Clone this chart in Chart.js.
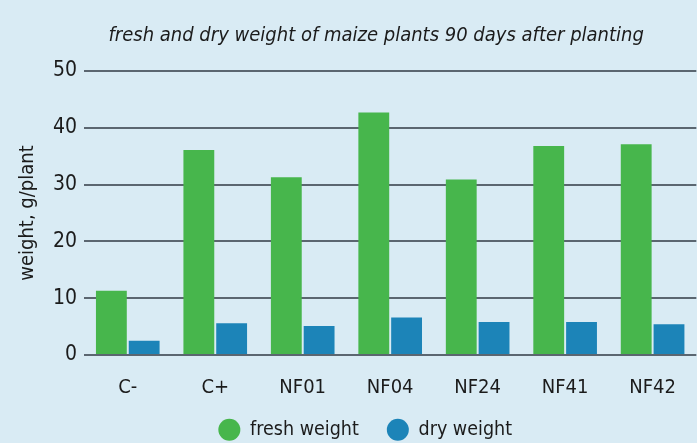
<!DOCTYPE html>
<html>
<head>
<meta charset="utf-8">
<script src="https://cdn.jsdelivr.net/npm/chart.js@4.4.0/dist/chart.umd.min.js"></script>
<style>
  html, body { margin: 0; padding: 0; background: #d9ebf4; }
  canvas { display: block; }
</style>
</head>
<body>
<canvas id="maizeChart" width="697" height="443"></canvas>
<script>
const categories = ['C-', 'C+', 'NF01', 'NF04', 'NF24', 'NF41', 'NF42'];
const freshWeight = [11.3, 36.1, 31.3, 42.7, 30.9, 36.8, 37.1];
const dryWeight = [2.5, 5.6, 5.1, 6.6, 5.8, 5.8, 5.4];
const yTicks = [0, 10, 20, 30, 40, 50];

const fontFamily = "'Liberation Sans Narrow', 'DejaVu Sans Condensed', sans-serif";
const textColor = '#1b1b1b';

// title and legend in the original are not centred on the plot, shift them a bit
const nudgeBoxes = {
    id: 'nudgeBoxes',
    afterLayout(chart) {
        const t = chart.titleBlock;
        if (t) { t.left -= 14; t.right -= 14; }
        const lg = chart.legend;
        if (lg) {
            lg.left -= 25; lg.right -= 25;
            lg.top -= 29;
            lg.bottom = chart.height; // legend clips to its box
        }
    }
};

const ctx = document.getElementById('maizeChart');
new Chart(ctx, {
    type: 'bar',
    data: {
        labels: categories,
        datasets: [
            {label: 'fresh weight', data: freshWeight, backgroundColor: '#47b64c'},
            {label: 'dry weight', data: dryWeight, backgroundColor: '#1c84b8'}
        ]
    },
    options: {
        responsive: false,
        animation: false,
        layout: {padding: {left: 12, right: 0, top: 0, bottom: 0}},
        datasets: {bar: {categoryPercentage: 0.75, barPercentage: 0.94}},
        scales: {
            x: {
                grid: {display: false, drawTicks: false},
                border: {display: false},
                ticks: {color: textColor, font: {family: fontFamily, size: 20}, padding: 21}
            },
            y: {
                min: 0,
                max: 50,
                afterBuildTicks: axis => { axis.ticks = yTicks.map(v => ({value: v})); },
                grid: {color: '#5b6670', lineWidth: 2, drawTicks: false},
                border: {display: false},
                ticks: {color: textColor, font: {family: fontFamily, size: 21}, padding: 7},
                title: {display: true, text: 'weight, g/plant', color: textColor,
                        font: {family: fontFamily, size: 20}, padding: {bottom: 6}}
            }
        },
        plugins: {
            title: {
                display: true,
                text: 'fresh and dry weight of maize plants 90 days after planting',
                color: textColor,
                fullSize: false,
                font: {family: fontFamily, size: 20, style: 'italic', weight: 'normal'},
                padding: {top: 24, bottom: 23}
            },
            legend: {
                position: 'bottom',
                fullSize: false,
                maxHeight: 22,
                labels: {
                    usePointStyle: true,
                    pointStyle: 'circle',
                    boxHeight: 15.5,
                    pointStyleWidth: 22,
                    color: textColor,
                    font: {family: fontFamily, size: 19.5},
                    padding: 28
                }
            },
            tooltip: {enabled: false}
        }
    },
    plugins: [nudgeBoxes]
});
</script>
</body>
</html>
